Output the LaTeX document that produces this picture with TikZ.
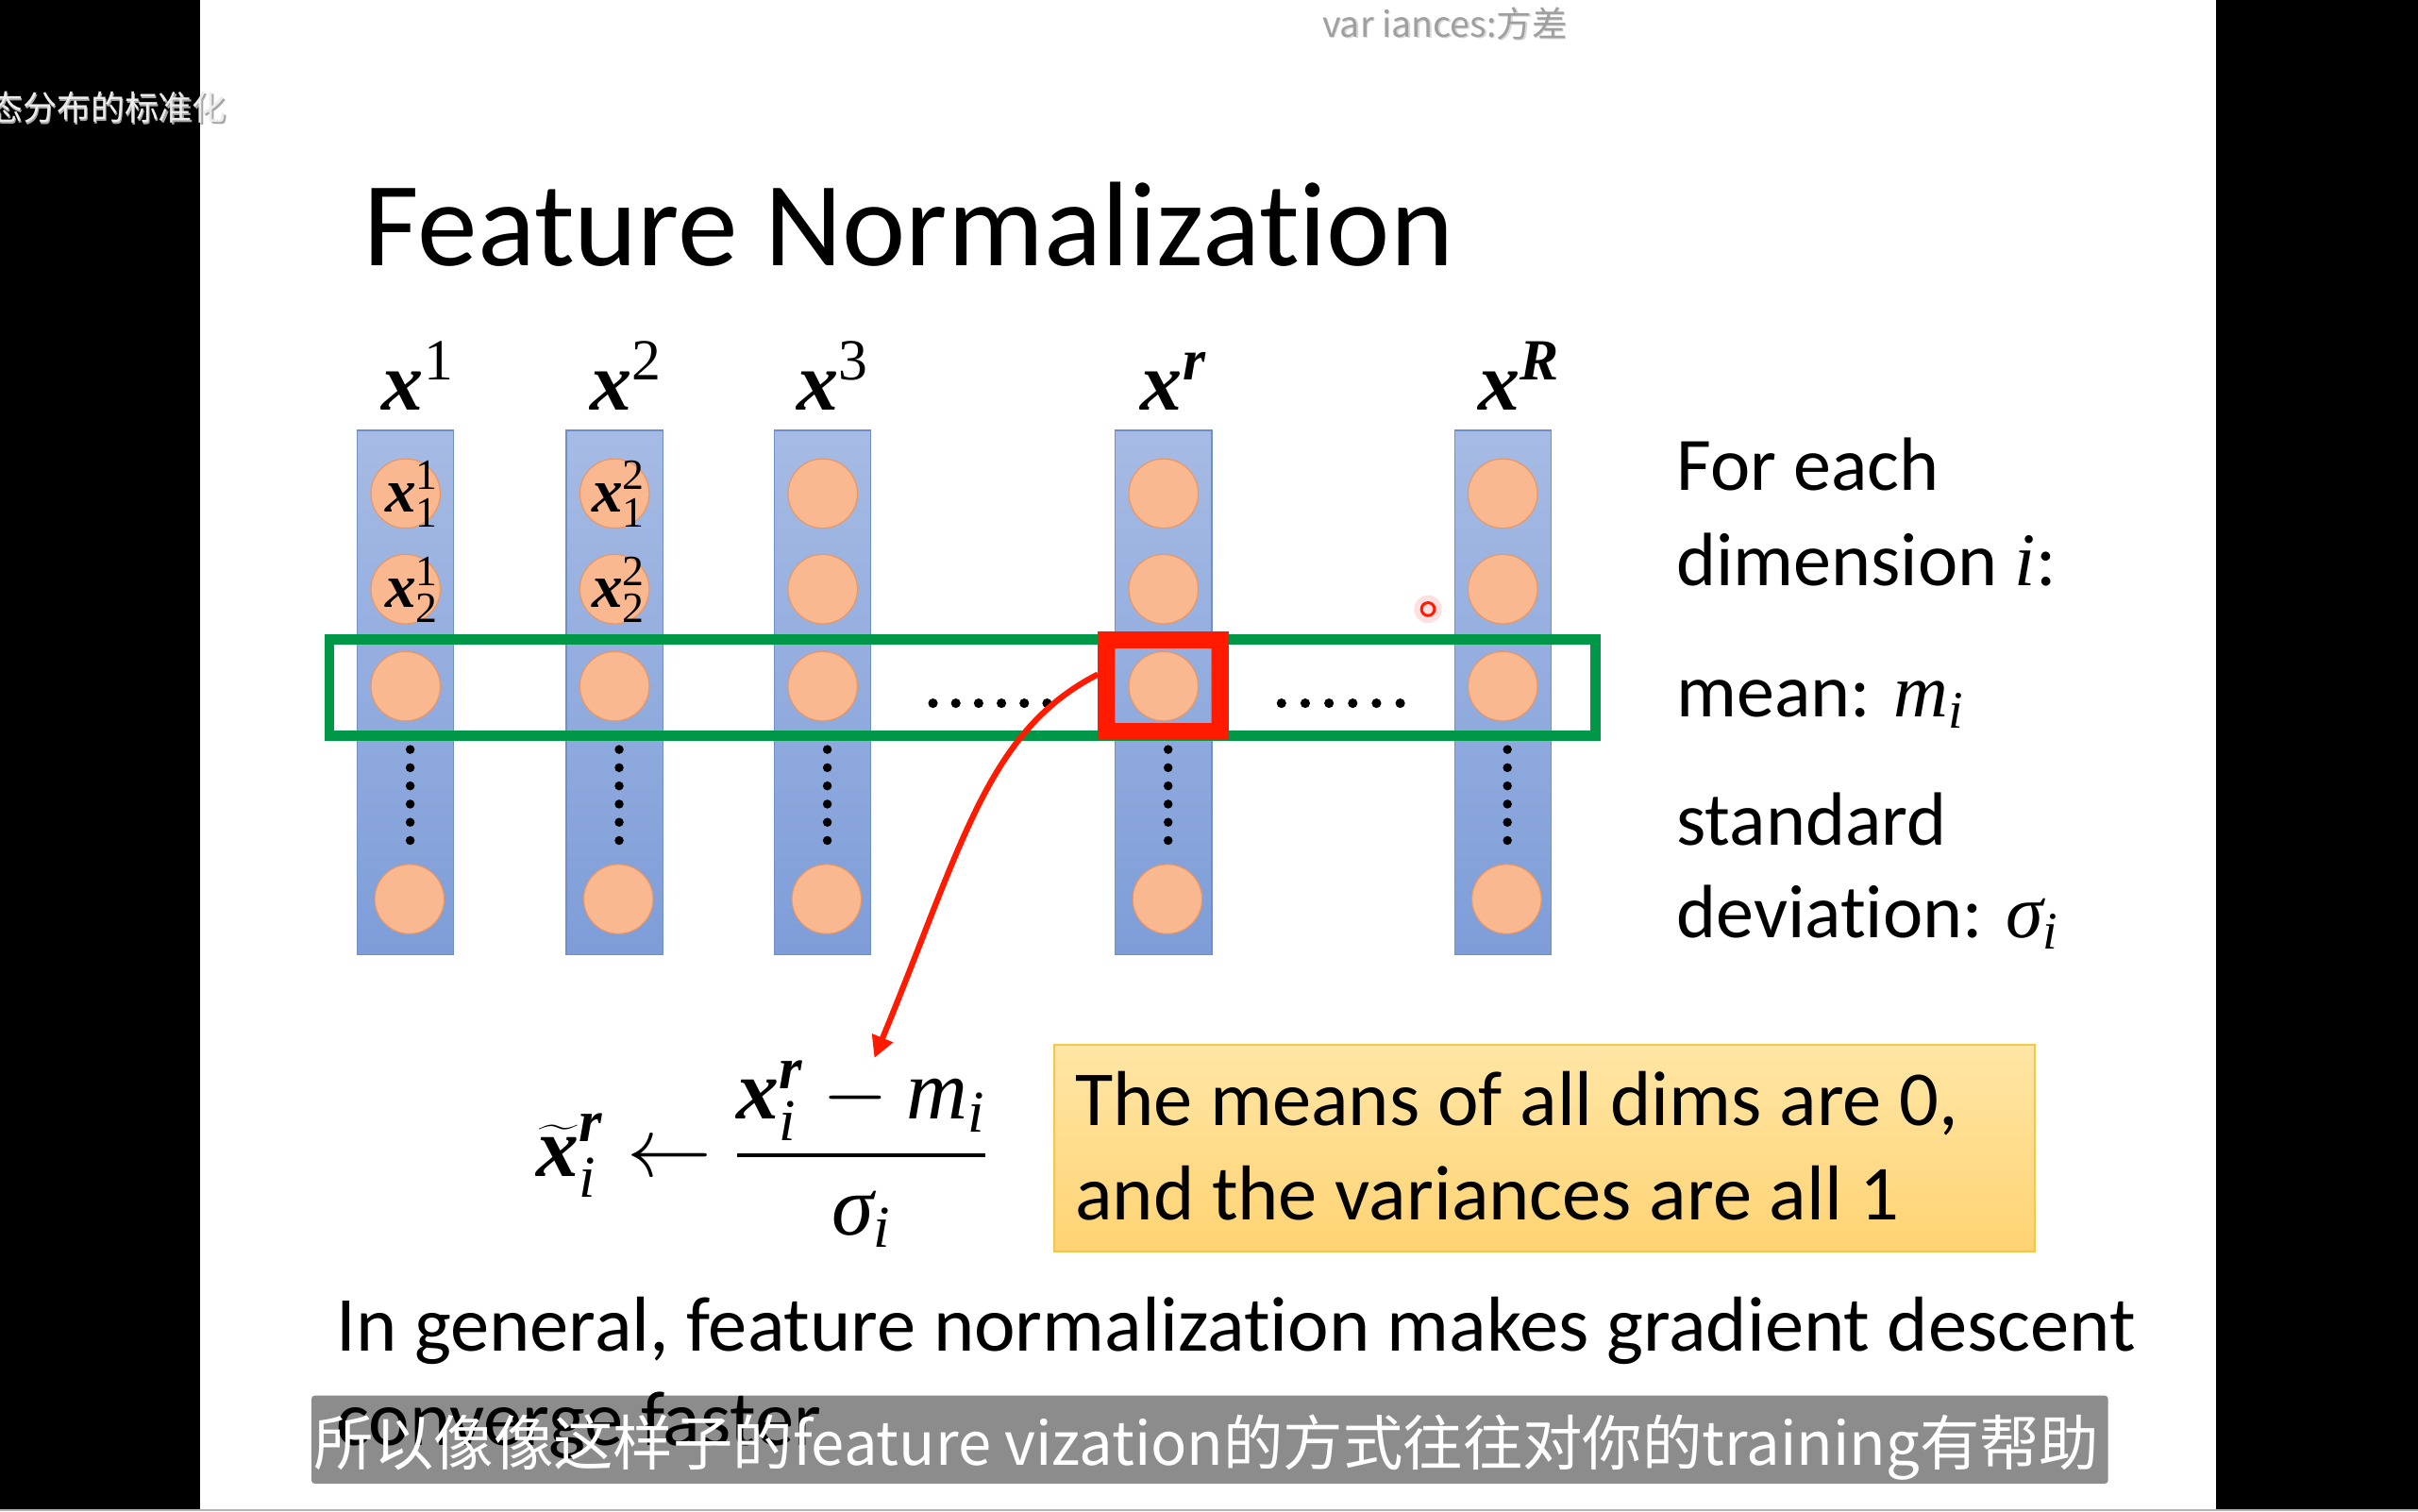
\RequirePackage{fix-cm}
\documentclass[tikz,border=0pt]{standalone}
\usepackage{amsmath}
\usepackage{fontspec}
\setmainfont{Carlito}[Ligatures=NoCommon]
\newfontfamily\cjk{Noto Sans CJK SC}
\newfontfamily\cam{Liberation Serif}
\usetikzlibrary{arrows.meta}
\definecolor{colbluetop}{RGB}{166,187,228}
\definecolor{colbluebot}{RGB}{126,157,216}
\definecolor{colborder}{RGB}{112,142,204}
\definecolor{peach}{RGB}{249,184,144}
\definecolor{peachdark}{RGB}{234,150,98}
\definecolor{boxgreen}{RGB}{0,152,72}
\definecolor{boxred}{RGB}{255,26,0}
\definecolor{yelltop}{RGB}{255,230,165}
\definecolor{yellbot}{RGB}{255,211,115}
\definecolor{yellborder}{RGB}{246,197,75}
\newcommand{\bxx}{\text{\cam\bfseries\itshape x}}
\newcommand{\bdg}[1]{\text{\cam #1}}
\newcommand{\bil}[1]{\text{\cam\bfseries\itshape #1}}
\newcommand{\itl}[1]{\text{\cam\itshape #1}}
\begin{document}
\begin{tikzpicture}[x=1pt,y=-1pt,
  colbox/.style={draw=colborder,line width=0.8pt,top color=colbluetop,bottom color=colbluebot,
    minimum width=62.5pt,minimum height=340pt,inner sep=0pt},
  ball/.style={circle,draw=peachdark,line width=0.7pt,fill=peach,minimum size=45pt,inner sep=0pt},
  collab/.style={anchor=base,inner sep=0pt,font=\fontsize{54}{60}\selectfont},
  balllab/.style={anchor=base,inner sep=0pt,font=\fontsize{40}{44}\selectfont},
  bodytxt/.style={anchor=base west,inner sep=0pt,font=\fontsize{49}{56}\selectfont},
  boxtxt/.style={anchor=base west,inner sep=0pt,font=\fontsize{50.5}{56}\selectfont},
  vdots/.style={fill=black},
]
\useasboundingbox (0,0) rectangle (1568,980);
\fill[white] (0,0) rectangle (1568,980);

% title
\node[anchor=base west,inner sep=0pt,font=\fontsize{78}{84}\selectfont] (title) at (236,172) {Feature Normalization};

% columns
\foreach \n/\cx in {1/263,2/398.5,3/533.5,4/754.5,5/974.5}{
  \node[colbox] (col\n) at (\cx,449) {};
}
\foreach \n/\cx in {1/263,2/398.5,3/533.5,4/754.5,5/974.5}{
  \node[ball] (b\n a) at (\cx,320) {};
  \node[ball] (b\n b) at (\cx,382) {};
  \node[ball] (b\n c) at (\cx,445) {};
  \node[ball] (b\n d) at (\cx+2.5,583) {};
  \foreach \k in {0,...,5}{
    \fill[vdots] (\cx+3,486+\k*11.8) circle (2.9);
  }
}

% column labels
\node[collab] (l1) at (271,266) {$\bxx^{\bdg{1}}$};
\node[collab] (l2) at (406,266) {$\bxx^{\bdg{2}}$};
\node[collab] (l3) at (540,266) {$\bxx^{\bdg{3}}$};
\node[collab] (l4) at (761,266) {$\bxx^{\bil{r}}$};
\node[collab] (l5) at (985,266) {$\bxx^{\bil{R}}$};

% labels inside circles
\node[balllab] (t11) at (267,332) {$\bxx^{\bdg{1}}_{\bdg{1}}$};
\node[balllab] (t12) at (267,394) {$\bxx^{\bdg{1}}_{\bdg{2}}$};
\node[balllab] (t21) at (401,332) {$\bxx^{\bdg{2}}_{\bdg{1}}$};
\node[balllab] (t22) at (401,394) {$\bxx^{\bdg{2}}_{\bdg{2}}$};

% horizontal dots
\foreach \k in {0,...,5}{
  \fill[vdots] (605+\k*14.8,456) circle (3.1);
  \fill[vdots] (831+\k*15.4,456) circle (3.1);
}

% green and red boxes
\node[draw=boxgreen,line width=6.5pt,minimum width=821pt,minimum height=62.5pt,inner sep=0pt] (grn) at (624,445.75) {};
\node[draw=boxred,line width=11pt,minimum width=74pt,minimum height=59.5pt,inner sep=0pt] (rb) at (754.5,444.75) {};

% formula
\node[anchor=base west,inner sep=0pt,font=\fontsize{55}{60}\selectfont] (frm) at (348,763)
  {$\displaystyle \widetilde{\bxx}{}^{\bil{r}}_{\itl{i}} \leftarrow \genfrac{}{}{2.6pt}{0}{\bxx^{\bil{r}}_{\itl{i}} - \itl{m}_{\itl{i}}}{\itl{σ}_{\itl{i}}}$};
\coordinate (ae) at (567,686);
\draw[boxred,line width=3.8pt,-{Triangle[length=14pt,width=14pt]}]
  (rb.170) .. controls (640,474) and (624,548) .. (ae);

% right text
\node[bodytxt] (r1) at (1087,318) {For each};
\node[bodytxt] (r2) at (1087,380) {dimension $\itl{i}$:};
\node[bodytxt] (r3) at (1087,465) {mean: $\itl{m}_{\itl{i}}$};
\node[bodytxt] (r4) at (1087,548) {standard};
\node[bodytxt] (r5) at (1087,608) {deviation: $\itl{σ}_{\itl{i}}$};

% yellow box
\node[draw=yellborder,line width=1.5pt,top color=yelltop,bottom color=yellbot,
  minimum width=636pt,minimum height=134pt,inner sep=0pt] (yb) at (1001.5,744.5) {};
\node[boxtxt] (y1) at (697,730) {The means of all dims are 0,};
\node[boxtxt] (y2) at (697,791) {and the variances are all 1};

% bottom text
\node[boxtxt] (g1) at (218,876) {In general, feature normalization makes gradient descent};
\node[boxtxt] (g2) at (218,937) {converge faster};

% subtitle bar
\node[fill=black,fill opacity=0.45,rounded corners=2pt,minimum width=1165pt,minimum height=57pt,inner sep=0pt] (sbar) at (784.5,933.5) {};
\node[anchor=base,inner sep=0pt,text=white,font=\cjk\fontsize{38.8}{44}\selectfont] (stxt) at (782.5,950)
  {所以像像这样子的feature vization的方式往往对你的training有帮助};

% black side bars
\fill[black] (0,0) rectangle (130,979);
\fill[black] (1437,0) rectangle (1568,979);
\draw[gray!60,line width=1.2pt] (0,979.4) -- (1568,979.4);

% overlay captions
\node[anchor=base east,inner sep=0pt,text=gray!70,font=\cjk\fontsize{22}{24}\selectfont] (tlsh) at (148,79) {态分布的标准化};
\node[anchor=base east,inner sep=0pt,text=gray!15,font=\cjk\fontsize{22}{24}\selectfont] (tl) at (147,78) {态分布的标准化};
\node[anchor=base,inner sep=0pt,text=gray!30,font=\cjk\fontsize{23}{26}\selectfont] (tcsh) at (938,25) {var iances:方差};
\node[anchor=base,inner sep=0pt,text=gray!75,font=\cjk\fontsize{23}{26}\selectfont] (tc) at (937,24) {var iances:方差};

% laser pointer
\fill[red!20,opacity=0.6] (926,395) circle (9);
\draw[boxred,line width=1.8pt] (926,395) circle (4.2);
\end{tikzpicture}
\end{document}
